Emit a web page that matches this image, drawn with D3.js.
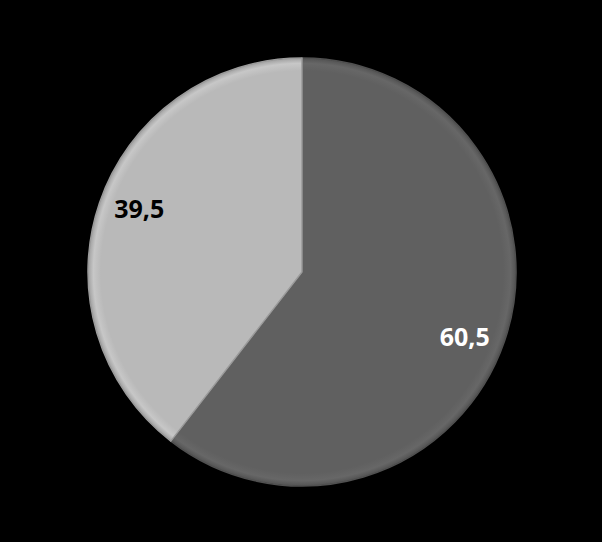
<html>
<head>
<meta charset="utf-8">
<script src="https://d3js.org/d3.v7.min.js"></script>
<style>
  body { margin: 0; background: #000; }
  .lbl { font-family: "Open Sans", "Liberation Sans", sans-serif; font-weight: bold; font-size: 25px; }
</style>
</head>
<body>
<div id="chart"></div>
<script>
// data
var categories = ["A", "B"];
var values = [60.5, 39.5];
var labels = ["60,5", "39,5"];
var fills = ["#606060", "#b9b9b9"];
var textColors = ["#ffffff", "#000000"];

var width = 602, height = 542,
    cx = 302, cy = 272, radius = 214;

var svg = d3.select("#chart").append("svg")
    .attr("width", width)
    .attr("height", height)
    .style("display", "block")
    .style("background", "#000");

var defs = svg.append("defs");

// rim shading for the bevel look (gradient centred on the group origin)
fills.forEach(function(c, i) {
  var gr = defs.append("radialGradient")
      .attr("id", "grad" + i)
      .attr("gradientUnits", "userSpaceOnUse")
      .attr("cx", 0).attr("cy", 0).attr("r", radius);
  var base = d3.color(c);
  gr.append("stop").attr("offset", "0%").attr("stop-color", base.formatHex());
  gr.append("stop").attr("offset", "94%").attr("stop-color", base.formatHex());
  gr.append("stop").attr("offset", "97.5%").attr("stop-color", base.brighter(0.2).formatHex());
  gr.append("stop").attr("offset", "100%").attr("stop-color", base.darker(0.4).formatHex());
});

var g = svg.append("g").attr("transform", "translate(" + cx + "," + cy + ")");

var pie = d3.pie().sort(null).value(function(d) { return d; });
var arcs = pie(values);

var arc = d3.arc().innerRadius(0).outerRadius(radius);
var labelArc = d3.arc().innerRadius(172).outerRadius(172);

g.selectAll("path.slice")
  .data(arcs)
  .enter().append("path")
    .attr("class", "slice")
    .attr("d", arc)
    .attr("fill", function(d, i) { return "url(#grad" + i + ")"; })
    .attr("stroke", function(d, i) { return d3.color(fills[i]).darker(0.5).formatHex(); })
    .attr("stroke-width", 1.5)
    .attr("stroke-linejoin", "round");

var nudge = [10, -7];
g.selectAll("text.lbl")
  .data(arcs)
  .enter().append("text")
    .attr("class", "lbl")
    .attr("x", function(d) { return labelArc.centroid(d)[0]; })
    .attr("y", function(d, i) { return labelArc.centroid(d)[1] + nudge[i]; })
    .attr("dy", "0.35em")
    .attr("text-anchor", "middle")
    .attr("fill", function(d, i) { return textColors[i]; })
    .text(function(d, i) { return labels[i]; });
</script>
</body>
</html>
